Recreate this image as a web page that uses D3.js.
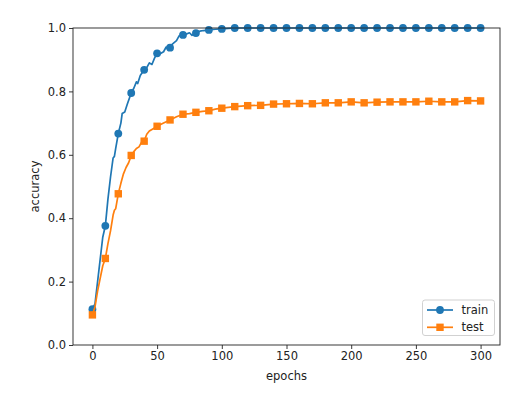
<!DOCTYPE html>
<html lang="en">
  <head>
    <meta charset="utf-8">
    <title>accuracy vs epochs</title>
    <style>
      body { margin: 0; background: #fff; }
      text { font-family: "DejaVu Sans", sans-serif; fill: #222; }
    </style>
  </head>
  <body>
    <div class="chart"></div>
    <script src="https://cdn.jsdelivr.net/npm/d3@7"></script>
    <script type="text/javascript">
      // values (markers sit on every 10th epoch)
      var trainEpochs = [0, 2, 4, 6, 8, 10, 12, 14, 16, 17, 18, 20, 22, 23, 25, 27, 30, 32, 34, 35, 37, 40,
        42, 44, 46, 48, 50, 52, 55, 57, 58, 60, 62, 65, 67, 70, 72, 75, 77, 80, 83, 86, 90, 95, 100, 105,
        110, 120, 130, 140, 150, 160, 170, 180, 190, 200, 210, 220, 230, 240, 250, 260, 270, 280, 290, 300];
      var trainAcc = [0.113, 0.13, 0.20, 0.27, 0.34, 0.376, 0.46, 0.53, 0.59, 0.595, 0.62, 0.667, 0.70, 0.73,
        0.735, 0.76, 0.795, 0.81, 0.83, 0.825, 0.85, 0.868, 0.875, 0.89, 0.885, 0.905, 0.920, 0.918, 0.925,
        0.94, 0.935, 0.938, 0.95, 0.96, 0.975, 0.978, 0.98, 0.985, 0.977, 0.984, 0.99, 0.992, 0.994, 0.996,
        0.997, 0.999, 1, 1, 1, 1, 1, 1, 1, 1, 1, 1, 1, 1, 1, 1, 1, 1, 1, 1, 1, 1];

      var testEpochs = [0, 2, 4, 6, 8, 10, 12, 14, 16, 17, 18, 20, 22, 24, 26, 28, 30, 32, 34, 36, 38, 40,
        42, 44, 46, 48, 50, 55, 60, 65, 70, 75, 80, 85, 90, 95, 100, 110, 120, 130, 140, 150, 160, 170,
        180, 190, 200, 210, 220, 230, 240, 250, 260, 270, 280, 290, 300];
      var testAcc = [0.095, 0.12, 0.17, 0.21, 0.25, 0.273, 0.32, 0.36, 0.41, 0.425, 0.43, 0.477, 0.51, 0.54,
        0.56, 0.575, 0.598, 0.61, 0.62, 0.625, 0.64, 0.643, 0.665, 0.675, 0.68, 0.685, 0.69, 0.70, 0.710,
        0.72, 0.728, 0.73, 0.734, 0.737, 0.739, 0.744, 0.747, 0.752, 0.755, 0.756, 0.760, 0.761, 0.762,
        0.761, 0.764, 0.764, 0.767, 0.764, 0.766, 0.767, 0.767, 0.767, 0.769, 0.767, 0.767, 0.771, 0.770];

      var xTicks = [0, 50, 100, 150, 200, 250, 300];
      var yTicks = [0, 0.2, 0.4, 0.6, 0.8, 1.0];
      var seriesNames = ["train", "test"];
      var colors = ["#1f77b4", "#ff7f0e"];

      var width = 523, height = 395;
      var margin = {top: 28, right: 23, bottom: 50, left: 73};

      var svg = d3.select(".chart")
        .append("svg")
          .attr("width", width)
          .attr("height", height);

      var x = d3.scaleLinear().domain([-15, 315]).range([margin.left, width - margin.right]);
      var y = d3.scaleLinear().domain([0, 1]).range([height - margin.bottom, margin.top]);

      var series = [
        {name: seriesNames[0], color: colors[0], shape: "circle",
          pts: trainEpochs.map(function(e, i) { return {e: e, v: trainAcc[i]}; })},
        {name: seriesNames[1], color: colors[1], shape: "square",
          pts: testEpochs.map(function(e, i) { return {e: e, v: testAcc[i]}; })}
      ];

      var line = d3.line()
          .x(function(d) { return x(d.e); })
          .y(function(d) { return y(d.v); });

      function drawMarker(g, shape, color) {
        if (shape == "circle") {
          g.append("circle").attr("r", 3.9).attr("fill", color);
        } else {
          g.append("rect").attr("x", -3.7).attr("y", -3.7)
            .attr("width", 7.4).attr("height", 7.4).attr("fill", color);
        }
      }

      var plot = svg.append("g");
      plot.append("clipPath").attr("id", "clip")
        .append("rect")
          .attr("x", margin.left).attr("y", margin.top - 4)
          .attr("width", width - margin.left - margin.right)
          .attr("height", height - margin.top - margin.bottom + 4);

      // matplotlib draws later series on top
      series.forEach(function(s) {
        var g = plot.append("g");
        g.append("path")
          .attr("d", line(s.pts))
          .attr("fill", "none")
          .attr("stroke", s.color)
          .attr("stroke-width", 1.7)
          .attr("stroke-linejoin", "round");
        g.selectAll(".m")
          .data(s.pts.filter(function(d) { return d.e % 10 == 0; }))
          .enter().append("g")
            .attr("clip-path", "url(#clip)")
          .append("g")
            .attr("transform", function(d) { return "translate(" + x(d.e) + "," + y(d.v) + ")"; })
            .each(function() { drawMarker(d3.select(this), s.shape, s.color); });
      });

      // axes
      var xAxis = svg.append("g")
        .attr("transform", "translate(0," + (height - margin.bottom) + ")")
        .call(d3.axisBottom(x).tickValues(xTicks).tickSizeOuter(0).tickSize(4).tickPadding(3));
      var yAxis = svg.append("g")
        .attr("transform", "translate(" + margin.left + ",0)")
        .call(d3.axisLeft(y).tickValues(yTicks).tickFormat(d3.format(".1f")).tickSizeOuter(0).tickSize(4).tickPadding(3));
      [xAxis, yAxis].forEach(function(a) {
        a.selectAll("text").style("font-family", "DejaVu Sans").style("font-size", "11.5px").attr("fill", "#222");
        a.selectAll("line").attr("stroke", "#222").attr("stroke-width", 0.9);
        a.select(".domain").remove();
      });

      // frame
      svg.append("rect")
        .attr("x", margin.left).attr("y", margin.top)
        .attr("width", width - margin.left - margin.right)
        .attr("height", height - margin.top - margin.bottom)
        .attr("fill", "none").attr("stroke", "#222").attr("stroke-width", 0.9);

      svg.append("text")
        .attr("x", x(150)).attr("y", 380)
        .attr("text-anchor", "middle")
        .style("font-size", "11.5px")
        .text("epochs");
      svg.append("text")
        .attr("transform", "translate(39," + y(0.5) + ") rotate(-90)")
        .attr("text-anchor", "middle")
        .style("font-size", "11.5px")
        .text("accuracy");

      // legend
      var legend = svg.append("g");
      legend.append("rect")
        .attr("x", 422.5).attr("y", 300)
        .attr("width", 72).attr("height", 35.5)
        .attr("rx", 2.5)
        .attr("fill", "#fff").attr("fill-opacity", 0.8)
        .attr("stroke", "#ccc").attr("stroke-width", 0.9);
      series.forEach(function(s, i) {
        var ly = 310 + i * 17.3;
        legend.append("line")
          .attr("x1", 427).attr("x2", 453).attr("y1", ly).attr("y2", ly)
          .attr("stroke", s.color).attr("stroke-width", 1.7);
        var mg = legend.append("g").attr("transform", "translate(440," + ly + ")");
        drawMarker(mg, s.shape, s.color);
        legend.append("text")
          .attr("x", 461.5).attr("y", ly + 4)
          .style("font-size", "11.5px")
          .text(s.name);
      });
    </script>
  </body>
</html>
